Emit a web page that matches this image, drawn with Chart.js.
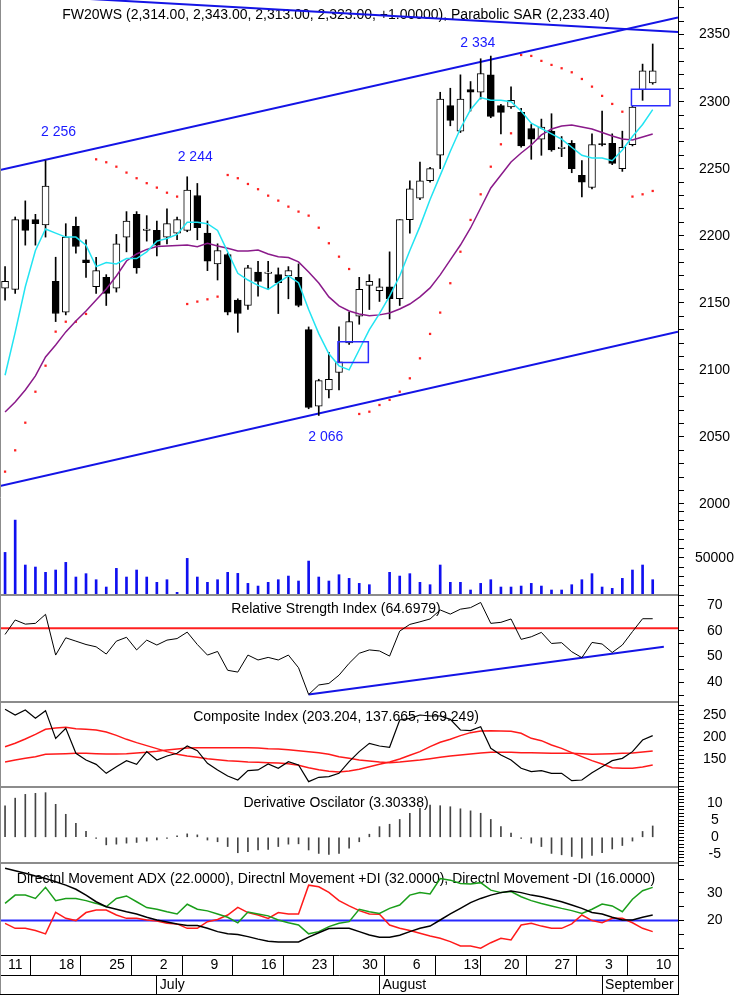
<!DOCTYPE html>
<html>
<head>
<meta charset="UTF-8">
<script src="https://cdn.jsdelivr.net/npm/chart.js@4.4.1/dist/chart.umd.min.js"></script>
<title>FW20WS</title>
<style>
	body { margin: 0; background: #fff; }
</style>
</head>
<body>
	<canvas id="stockChart" width="740" height="999"></canvas>
	<script>
		// daily bars, 11 Jun - 10 Sep (65 trading days)
		var opens  = [2161, 2160, 2212, 2212, 2208, 2166, 2143, 2207, 2182, 2162, 2169, 2161, 2199, 2216, 2204, 2204, 2199, 2202, 2204, 2230, 2202, 2179, 2186, 2152, 2148, 2173, 2172, 2171, 2170, 2169, 2130, 2073, 2085, 2098, 2120, 2140, 2163, 2159, 2162, 2153, 2212, 2228, 2241, 2260, 2297, 2278, 2309, 2307, 2320, 2297, 2296, 2292, 2280, 2272, 2278, 2265, 2269, 2245, 2236, 2268.5, 2269, 2250, 2268, 2309, 2314];
		var highs  = [2177, 2214, 2226, 2216, 2256, 2184, 2209, 2214, 2197, 2184, 2171, 2201, 2218, 2218, 2215, 2211, 2220, 2214, 2244, 2239, 2211, 2194, 2187, 2153, 2178, 2181, 2181, 2176, 2177, 2179, 2132, 2093, 2113, 2132, 2143, 2169, 2171, 2168, 2188, 2212, 2241, 2255, 2251, 2307, 2310, 2320, 2315, 2332, 2334, 2298, 2311, 2295, 2283, 2287, 2291, 2274, 2271, 2256, 2276, 2293, 2276, 2278, 2297, 2328, 2343];
		var lows   = [2152, 2157, 2193, 2193, 2199, 2136, 2141, 2187, 2169, 2157, 2148, 2158, 2188, 2172, 2196, 2185, 2194, 2197, 2203, 2197, 2174, 2167, 2141, 2128, 2145, 2155, 2160, 2142, 2153, 2147, 2071, 2066, 2079, 2085, 2119, 2134, 2145, 2151, 2138, 2148, 2202, 2227, 2240, 2250, 2282, 2277, 2293, 2302, 2288, 2276, 2295, 2266, 2257, 2260, 2263, 2259, 2247, 2229, 2235, 2267, 2253, 2248, 2267, 2301, 2313];
		var closes = [2166, 2212, 2204, 2209, 2237, 2142, 2199, 2192, 2180, 2174, 2157, 2194, 2211, 2176, 2205, 2193, 2209, 2212, 2234, 2206, 2181, 2189, 2143, 2142, 2176, 2166, 2173, 2165, 2174, 2148, 2072, 2092, 2093, 2106, 2136, 2160, 2166, 2162, 2153, 2212, 2235, 2241, 2250, 2302, 2286, 2302, 2307, 2321, 2289, 2292, 2301, 2267, 2272, 2281, 2264, 2266, 2250, 2240, 2268, 2268, 2254, 2266, 2296, 2323, 2323];
		var volumes = [57100, 100400, 40200, 37500, 30400, 33500, 43750, 24100, 28600, 20500, 10700, 35700, 24100, 33500, 24100, 17000, 20500, 3600, 49100, 24100, 17000, 20500, 30400, 29000, 15600, 12000, 17000, 20500, 25400, 18750, 45500, 24100, 18750, 27200, 22300, 15600, 13800, 900, 30400, 25400, 28600, 17000, 13800, 40200, 17000, 17000, 6700, 15600, 20500, 10700, 10700, 12000, 15600, 12000, 6700, 6700, 13800, 20500, 28600, 10700, 8900, 22300, 33500, 40200, 20500];
		var maFast = [2096, 2128, 2162, 2189, 2205, 2202, 2199, 2199, 2193, 2177, 2180, 2179, 2183, 2183, 2188, 2196, 2198, 2201, 2210, 2210, 2209, 2204, 2188, 2172, 2167, 2163, 2160, 2165, 2170, 2165, 2145, 2127, 2112, 2103, 2100, 2115, 2130, 2142, 2155, 2170, 2189, 2207, 2227, 2245, 2263, 2280, 2294, 2303, 2301, 2301, 2300, 2293, 2284, 2280, 2276, 2272, 2266, 2260, 2258, 2258, 2256, 2264, 2274, 2283, 2294];
		var maSlow = [2068.6, 2076.1, 2085.0, 2095.5, 2109.6, 2118.6, 2128.3, 2136.5, 2143.9, 2152.1, 2160.3, 2170.0, 2181.2, 2186.4, 2189.8, 2192.0, 2192.4, 2192.8, 2193.1, 2191.9, 2194.4, 2192.4, 2190.7, 2188.7, 2188.7, 2189.4, 2186.4, 2184.4, 2183.8, 2180.5, 2173.0, 2164.8, 2154.4, 2147.7, 2143.9, 2141.7, 2140.4, 2141.0, 2142.4, 2145.4, 2149.1, 2154.4, 2161.1, 2170.8, 2182.0, 2193.1, 2205.8, 2220.7, 2235.6, 2245.3, 2255.0, 2261.7, 2267.7, 2275.2, 2279.6, 2281.9, 2282.6, 2281.1, 2279.6, 2277.0, 2274.4, 2272.2, 2271.4, 2273.7, 2275.9];
		var sar = [2024.1, 2040.0, 2060.6, 2083.7, 2103.1, 2128.5, 2135.9, 2135.9, 2141.7, 2257.0, 2254.8, 2251.5, 2247.1, 2242.9, 2239.2, 2235.9, 2232.1, 2229.2, 2149.1, 2150.9, 2152.6, 2154.6, 2245.3, 2242.9, 2238.6, 2234.7, 2229.9, 2226.2, 2221.7, 2218.0, 2215.0, 2206.0, 2194.4, 2184.4, 2175.2, 2067.1, 2068.8, 2073.8, 2077.6, 2083.7, 2093.7, 2108.6, 2126.8, 2142.7, 2164.6, 2188.1, 2211.8, 2230.9, 2251.5, 2268.2, 2276.4, 2334.8, 2334.1, 2330.4, 2327.4, 2324.9, 2321.9, 2316.9, 2311.2, 2304.3, 2298.3, 2292.5, 2229.2, 2230.9, 2233.4];
		var rsi = [58.6, 64.2, 62.6, 62.9, 66.4, 50.6, 57.3, 56.0, 54.7, 53.8, 51.0, 56.0, 57.5, 52.6, 56.4, 54.5, 56.4, 57.0, 59.5, 54.7, 50.6, 52.0, 44.7, 44.0, 50.6, 48.7, 49.7, 48.7, 50.6, 45.7, 35.3, 39.0, 39.6, 42.8, 47.4, 51.3, 52.6, 52.2, 50.2, 59.9, 62.5, 63.5, 64.6, 68.1, 66.5, 68.4, 69.0, 71.0, 62.9, 63.3, 64.6, 56.7, 57.7, 59.4, 55.1, 55.4, 51.9, 49.6, 55.5, 54.9, 51.6, 54.5, 59.7, 64.7, 64.7];
		var cmpIndex = [262.0, 249.3, 260.5, 241.9, 259.0, 197.2, 219.6, 163.8, 148.9, 139.2, 119.1, 134.0, 147.4, 139.2, 167.5, 148.9, 157.8, 163.8, 180.1, 169.7, 141.4, 126.6, 113.2, 104.2, 125.1, 126.6, 140.0, 130.3, 145.2, 137.7, 100.5, 110.2, 111.7, 119.1, 145.2, 167.5, 186.1, 180.1, 177.2, 238.2, 241.9, 249.3, 247.1, 247.1, 239.6, 215.8, 214.4, 223.3, 174.9, 160.0, 148.9, 130.3, 122.8, 125.1, 119.1, 119.1, 102.8, 104.2, 120.6, 134.0, 147.4, 152.6, 167.5, 193.5, 203.2];
		var cmpFast = [178.6, 186.1, 195.8, 206.2, 217.3, 220.3, 221.8, 218.8, 217.3, 215.8, 211.4, 203.9, 195.0, 187.6, 180.9, 174.2, 167.5, 161.5, 157.8, 154.8, 151.9, 149.6, 147.4, 145.9, 144.4, 143.7, 142.9, 142.2, 140.7, 137.0, 131.8, 127.3, 123.6, 122.1, 124.3, 128.0, 134.0, 139.2, 144.4, 151.1, 159.3, 167.5, 178.6, 188.3, 195.0, 203.2, 209.9, 213.6, 214.4, 213.6, 212.9, 208.4, 197.2, 192.0, 182.4, 174.9, 165.2, 156.3, 147.4, 140.0, 131.8, 130.3, 130.3, 133.3, 137.7];
		var cmpSlow = [144.4, 148.9, 152.6, 156.3, 161.5, 162.3, 163.0, 163.8, 163.8, 163.0, 162.3, 162.3, 163.0, 164.5, 166.0, 168.2, 171.2, 173.4, 175.7, 176.4, 176.4, 176.4, 176.4, 176.4, 176.4, 175.7, 174.2, 173.4, 171.9, 169.7, 167.5, 165.2, 161.5, 156.3, 152.6, 148.9, 146.6, 144.4, 142.9, 144.4, 146.6, 148.9, 151.9, 154.8, 157.8, 160.0, 162.3, 164.5, 166.0, 166.0, 166.0, 165.2, 165.2, 164.5, 163.8, 163.8, 163.8, 163.0, 161.5, 162.3, 163.0, 163.8, 164.5, 166.7, 169.2];
		var derOsc = [9.2, 11.4, 12.5, 12.8, 13.0, 9.6, 6.7, 4.1, 1.7, -0.3, -2.2, -2.0, -1.7, -1.5, -1.1, -0.8, -0.3, 0.4, 1.0, 0.7, -0.8, -1.3, -2.7, -4.5, -4.2, -3.7, -3.5, -2.7, -2.0, -1.9, -3.7, -4.7, -5.0, -4.7, -3.2, -1.3, 0.9, 3.1, 3.8, 5.2, 7.0, 8.4, 9.4, 9.2, 8.9, 8.3, 7.7, 7.0, 5.2, 3.1, 1.2, -0.3, -1.7, -2.7, -4.7, -5.1, -5.6, -6.1, -5.3, -4.5, -3.4, -2.4, -1.1, 1.7, 3.3];
		var adx = [38.9, 38.0, 37.1, 36.1, 35.2, 34.0, 32.8, 31.3, 29.2, 26.8, 25.0, 24.1, 23.2, 22.4, 21.2, 20.2, 19.5, 18.8, 18.2, 18.2, 17.2, 16.0, 15.2, 15.0, 14.2, 13.3, 12.5, 12.3, 12.3, 12.3, 14.0, 15.6, 17.1, 17.2, 17.2, 16.0, 14.8, 14.0, 14.0, 14.7, 16.0, 17.2, 18.0, 20.2, 22.4, 24.4, 26.5, 28.0, 29.2, 30.1, 30.7, 30.1, 29.2, 28.6, 27.7, 26.8, 25.6, 24.4, 22.9, 22.4, 21.2, 20.2, 20.2, 21.2, 22.0];
		var plusDI = [26.2, 29.2, 29.2, 28.0, 32.0, 27.2, 28.0, 28.0, 27.2, 26.2, 25.0, 28.0, 28.9, 26.8, 24.7, 24.1, 23.2, 22.4, 25.9, 24.1, 23.5, 22.4, 21.2, 19.2, 23.1, 22.4, 21.7, 20.2, 19.2, 18.4, 15.2, 16.0, 17.8, 19.0, 19.6, 24.1, 23.2, 22.6, 24.4, 25.6, 29.2, 30.1, 29.6, 35.2, 34.6, 33.4, 33.2, 33.7, 31.0, 30.1, 30.5, 28.6, 27.2, 26.2, 25.3, 24.4, 23.6, 22.6, 24.1, 26.0, 25.3, 23.2, 27.7, 30.8, 32.0];
		var minusDI = [19.0, 17.2, 17.2, 16.4, 15.2, 23.0, 20.8, 20.0, 22.9, 23.8, 23.8, 22.0, 20.8, 20.8, 20.2, 19.8, 19.0, 18.8, 17.2, 17.2, 19.6, 20.4, 22.0, 24.8, 22.9, 22.0, 20.8, 22.9, 22.4, 22.4, 32.8, 32.2, 30.2, 27.2, 25.3, 23.6, 22.4, 22.3, 18.4, 17.2, 16.4, 15.4, 14.4, 13.6, 12.4, 10.8, 10.8, 10.0, 12.0, 13.6, 13.0, 18.4, 19.0, 18.0, 17.2, 17.2, 18.8, 22.0, 20.0, 19.2, 20.8, 20.8, 19.2, 17.2, 16.0];

		// trend lines / boxes drawn on the chart (bar index, value)
		var lineX = [-0.5, 66.5];
		var channelTop = [2249.1, 2362.8];
		var channelBottom = [2013.4, 2128.5];
		var resistance = [2380.3, 2352.0];
		var box1X = [32.9, 35.9], box1Y = [2105.4, 2121.0];
		var box2X = [61.9, 65.7], box2Y = [2297.0, 2309.2];
		var rsiTrendX = [30, 65.1], rsiTrendY = [35.3, 53.8];
		var rsiLevel = 61;
		var dmiLevel = 20;
		var peakText = ['2 256', '2 244', '2 334', '2 066'];
		var peakBar = [4, 18, 48, 31];
		var peakValue = [2256, 2244, 2334, 2066];

		// axis labels
		var dayTicks = [0, 5, 10, 15, 20, 25, 30, 35, 40, 45, 49, 54, 59, 64];
		var dayLabels = ['11', '18', '25', '2', '9', '16', '23', '30', '6', '13', '20', '27', '3', '10'];
		var monthTicks = [15, 37, 59];
		var monthLabels = ['July', 'August', 'September'];
		var priceTickLabels = [2000, 2050, 2100, 2150, 2200, 2250, 2300, 2350];
		var volTickLabels = [50000];
		var rsiTickLabels = [40, 50, 60, 70];
		var cmpTickLabels = [150, 200, 250];
		var derTickLabels = [-5, 0, 5, 10];
		var dmiTickLabels = [20, 30];

		var panelTitles = {
			y: 'FW20WS (2,314.00, 2,343.00, 2,313.00, 2,323.00, +1.00000), Parabolic SAR (2,233.40)',
			yRsi: 'Relative Strength Index (64.6979)',
			yCmp: 'Composite Index (203.204, 137.665, 169.249)',
			yDer: 'Derivative Oscilator (3.30338)',
			yDmi: 'Directnl Movement ADX (22.0000), Directnl Movement +DI (32.0000), Directnl Movement -DI (16.0000)'
		};
		var titleOffset = { y: 15, yRsi: 14, yCmp: 15, yDer: 16, yDmi: 16 };
		var peakOffset = [[13, -29], [8, -20], [-13, -13], [7, 22]];

		var FONT = "'Liberation Sans', Arial, sans-serif";
		Chart.defaults.font.family = FONT;
		Chart.defaults.font.size = 14;
		Chart.defaults.color = '#000';

		function pts(values) {
			return values.map(function (v, i) { return { x: i, y: v }; });
		}
		function segment(xs, ys) {
			return [{ x: xs[0], y: ys[0] }, { x: xs[1], y: ys[1] }];
		}
		function rect(xs, ys) {
			return [{ x: xs[0], y: ys[0] }, { x: xs[1], y: ys[0] }, { x: xs[1], y: ys[1] },
				{ x: xs[0], y: ys[1] }, { x: xs[0], y: ys[0] }];
		}
		function line(data, yAxis, color, width, order) {
			return {
				type: 'line', data: data, yAxisID: yAxis, xAxisID: 'x',
				borderColor: color, borderWidth: width, pointRadius: 0,
				tension: 0, fill: false, order: order
			};
		}

		var wickData = highs.map(function (h, i) { return { x: i, y: [lows[i], h] }; });
		var bodyData = opens.map(function (o, i) { return { x: i, y: [o, closes[i]] }; });
		var bodyColors = opens.map(function (o, i) { return closes[i] >= o ? '#ffffff' : '#000000'; });

		// y axis of one panel, all stacked on the right
		function panelAxis(min, max, step, labels, weight, pad) {
			return {
				type: 'linear', position: 'right', stack: 'panels', stackWeight: weight,
				min: min, max: max,
				afterBuildTicks: function (axis) {
					var list = [];
					for (var v = Math.ceil(min / step) * step; v <= max; v += step) {
						list.push({ value: Math.round(v * 100) / 100 });
					}
					axis.ticks = list;
				},
				afterFit: function (axis) {
					axis.width = 62;
					axis.paddingTop = 0;
					axis.paddingBottom = 0;
				},
				border: { display: true, color: '#000' },
				grid: { drawOnChartArea: false, drawTicks: true, tickLength: 6, color: '#000' },
				ticks: {
					autoSkip: false, crossAlign: 'center', padding: pad,
					callback: function (v) { return labels.indexOf(v) >= 0 ? String(v) : ''; }
				}
			};
		}

		function dateAxis(ticks, labels) {
			return {
				type: 'linear', position: 'bottom', min: -0.5, max: 66.5, offset: false,
				afterBuildTicks: function (axis) {
					axis.ticks = ticks.map(function (v) { return { value: v }; });
				},
				afterFit: function (axis) {
					axis.height = 20;
					axis.paddingLeft = 0;
					axis.paddingRight = 0;
				},
				border: { display: true, color: '#000' },
				grid: { drawOnChartArea: false, drawTicks: true, tickLength: 20, color: '#000' },
				ticks: {
					autoSkip: false, maxRotation: 0, minRotation: 0,
					align: 'start', labelOffset: 3, padding: -18,
					callback: function (v, i) { return labels[i]; }
				}
			};
		}

		var panelPlugin = {
			id: 'panels',
			beforeDatasetsDraw: function (chart) {
				var ctx = chart.ctx, area = chart.chartArea;
				ctx.save();
				ctx.font = '14px ' + FONT;
				ctx.fillStyle = '#000';
				ctx.textAlign = 'center';
				ctx.textBaseline = 'middle';
				var cx = (area.left + area.right) / 2 - 3;
				Object.keys(panelTitles).forEach(function (id) {
					ctx.fillText(panelTitles[id], cx, chart.scales[id].top + titleOffset[id]);
				});
				ctx.restore();
			},
			afterDatasetsDraw: function (chart) {
				var ctx = chart.ctx, area = chart.chartArea;
				var xs = chart.scales.x, ys = chart.scales.y;
				ctx.save();
				// peak / trough labels
				ctx.font = '14px ' + FONT;
				ctx.fillStyle = '#1a1aff';
				ctx.textAlign = 'center';
				ctx.textBaseline = 'middle';
				peakText.forEach(function (t, i) {
					ctx.fillText(t, xs.getPixelForValue(peakBar[i]) + peakOffset[i][0],
						ys.getPixelForValue(peakValue[i]) + peakOffset[i][1]);
				});
				// panel separators
				ctx.strokeStyle = '#8c8c8c';
				ctx.lineWidth = 2;
				['yRsi', 'yCmp', 'yDer', 'yDmi'].forEach(function (id) {
					var top = chart.scales[id].top;
					ctx.beginPath();
					ctx.moveTo(area.left, top);
					ctx.lineTo(area.right, top);
					ctx.stroke();
				});
				// outer frame
				var bottom = chart.scales.x2.bottom;
				ctx.lineWidth = 1;
				ctx.beginPath();
				ctx.moveTo(0.5, 0);
				ctx.lineTo(0.5, bottom);
				ctx.stroke();
				ctx.strokeStyle = '#000';
				ctx.beginPath();
				ctx.moveTo(0, bottom - 0.5);
				ctx.lineTo(area.right, bottom - 0.5);
				ctx.moveTo(Math.round(area.right) + 0.5, area.bottom);
				ctx.lineTo(Math.round(area.right) + 0.5, bottom);
				ctx.stroke();
				ctx.restore();
			}
		};

		new Chart(document.getElementById('stockChart'), {
			type: 'line',
			data: {
				datasets: [
					line(rect(box1X, box1Y), 'y', '#2a2aff', 1.5, 0),
					line(rect(box2X, box2Y), 'y', '#2a2aff', 1.5, 0),
					line(pts(maFast), 'y', '#22e4f2', 1.5, 1),
					line(pts(maSlow), 'y', '#8a1a8a', 1.5, 1),
					{
						type: 'bar', data: bodyData, yAxisID: 'y', xAxisID: 'x', grouped: false,
						barThickness: 7, minBarLength: 1, backgroundColor: bodyColors,
						borderColor: '#000', borderWidth: 1, borderSkipped: false, order: 2
					},
					{
						type: 'bar', data: wickData, yAxisID: 'y', xAxisID: 'x', grouped: false,
						barThickness: 1, backgroundColor: '#000', order: 3
					},
					line(segment(lineX, channelTop), 'y', '#1414e6', 2, 4),
					line(segment(lineX, channelBottom), 'y', '#1414e6', 2, 4),
					line(segment(lineX, resistance), 'y', '#1414e6', 2, 4),
					{
						type: 'line', data: pts(sar), yAxisID: 'y', xAxisID: 'x', showLine: false,
						pointStyle: 'rect', pointRadius: 1.6, pointBorderWidth: 0,
						pointBackgroundColor: '#ff2020', order: 5
					},
					{
						type: 'bar', data: pts(volumes), yAxisID: 'yVol', xAxisID: 'x', grouped: false,
						barThickness: 2, backgroundColor: '#1010f0', order: 6
					},
					line(segment(lineX, [rsiLevel, rsiLevel]), 'yRsi', '#ff2020', 2, 8),
					line(segment(rsiTrendX, rsiTrendY), 'yRsi', '#1414e6', 2, 8),
					line(pts(rsi), 'yRsi', '#000', 1, 7),
					line(pts(cmpSlow), 'yCmp', '#ff1a1a', 1.5, 8),
					line(pts(cmpFast), 'yCmp', '#ff1a1a', 1.5, 8),
					line(pts(cmpIndex), 'yCmp', '#000', 1.2, 7),
					{
						type: 'bar', data: pts(derOsc), yAxisID: 'yDer', xAxisID: 'x', grouped: false,
						barThickness: 1, backgroundColor: '#444', order: 7
					},
					line(segment(lineX, [dmiLevel, dmiLevel]), 'yDmi', '#2828ff', 2, 8),
					line(pts(adx), 'yDmi', '#000', 1.5, 7),
					line(pts(plusDI), 'yDmi', '#1a9e1a', 1.5, 7),
					line(pts(minusDI), 'yDmi', '#ff1a1a', 1.5, 7)
				]
			},
			options: {
				responsive: false,
				animation: false,
				events: [],
				layout: { autoPadding: false, padding: { left: 0, right: 0, top: 0, bottom: 4 } },
				plugins: { legend: { display: false }, tooltip: { enabled: false } },
				scales: {
					y: panelAxis(1995.5, 2375.8, 10, priceTickLabels, 510, 15),
					yVol: panelAxis(0, 113940, 12500, volTickLabels, 85, 11),
					yRsi: panelAxis(32.4, 73.9, 5, rsiTickLabels, 107, 23),
					yCmp: panelAxis(88.6, 278.3, 10, cmpTickLabels, 85, 19),
					yDer: panelAxis(-7.49, 14.65, 1, derTickLabels, 76, 23),
					yDmi: panelAxis(7.56, 40.8, 5, dmiTickLabels, 92, 23),
					x: dateAxis(dayTicks, dayLabels),
					x2: dateAxis(monthTicks, monthLabels)
				}
			},
			plugins: [panelPlugin]
		});
	</script>
</body>
</html>
